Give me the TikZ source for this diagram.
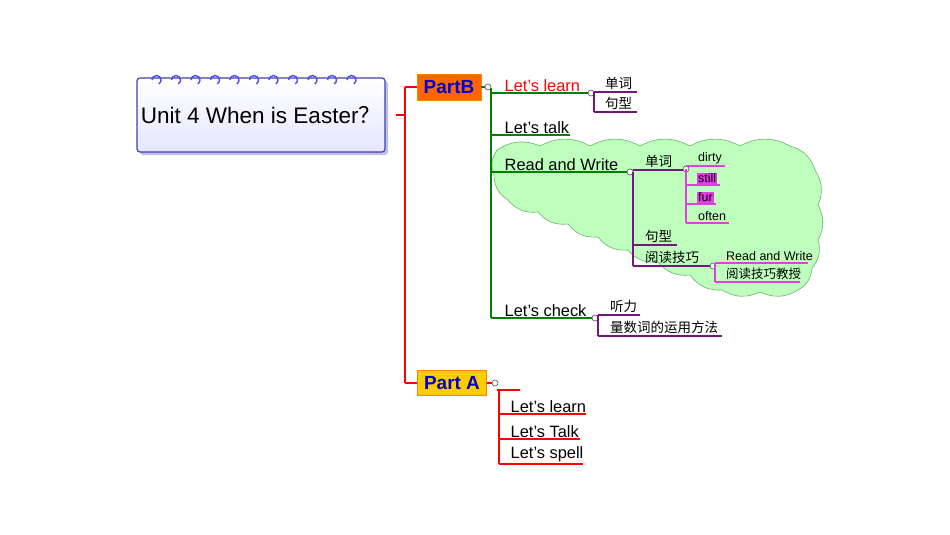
\documentclass[tikz,border=0pt]{standalone}
\usepackage{fontspec}
\setmainfont{Liberation Sans}
\newfontfamily\cjk{Noto Sans CJK SC}
\usetikzlibrary{shadows}
\definecolor{gr}{RGB}{0,128,0}
\definecolor{pu}{RGB}{120,20,130}
\definecolor{mg}{RGB}{230,60,230}
\definecolor{cl}{RGB}{190,255,190}
\begin{document}
\begin{tikzpicture}[x=1pt,y=-1pt,
 red/.style={draw=red,line width=2.4pt},
 grn/.style={draw=gr,line width=2.4pt},
 pur/.style={draw=pu,line width=1.8pt},
 mgl/.style={draw=mg,line width=1.2pt},
 dot/.style={circle,draw=black!70,fill=white,inner sep=0pt,minimum size=6pt,line width=0.6pt},
 lbl/.style={anchor=south west,inner sep=1.5pt,font=\fontsize{16.4}{16}\selectfont},
 sml/.style={anchor=south west,inner sep=1pt,font=\fontsize{12.5}{12}\selectfont},
 cn/.style={anchor=south west,inner sep=1pt,font=\cjk\fontsize{13.5}{13}\selectfont},
 bl/.style={bend left=28}]
\useasboundingbox (0,0) rectangle (950,535);
% cloud
\fill[cl,draw=gr!60,line width=0.6pt]
 (497,150) to[bl] (540,146) to[bl] (590,146) to[bl] (640,146)
 to[bl] (690,146) to[bl] (740,146) to[bl] (790,146)
 to[bl] (815,170) to[bl] (818,205) to[bl] (818,240)
 to[bl] (812,268) to[bl] (798,290) to[bl] (760,292)
 to[bl] (722,290) to[bl] (690,275) to[bl] (658,262)
 to[bl] (628,250) to[bl] (598,237) to[bl] (568,224)
 to[bl] (538,212) to[bl] (508,200) to[bl] (494,175)
 to[bl] (497,150) -- cycle;
% central box
\node[draw=blue!55!black!75,line width=1.2pt,rounded corners=3pt,top color=white,bottom color=blue!10,
 minimum width=248pt,minimum height=74pt,drop shadow={shadow xshift=3pt,shadow yshift=-3pt,fill=blue!45!gray!70},
 font=\fontsize{22.5}{23}\selectfont] (root) at (261,115) {Unit 4 When is Easter{\cjk ？}};
\foreach \i in {0,...,10} {\draw[blue!70,line width=1.4pt] (152+\i*19.5,80) arc (180:-60:4.5pt);}
% main red trunk
\coordinate (rt) at (405,87);\coordinate (rb) at (405,383);
\draw[red] (root.east) ++(10,0) -- (405,115);
\draw[red] (rt) -- (rb);
\node[fill=orange!80!red,draw=orange,inner sep=1pt,minimum width=64pt,minimum height=26pt,text=blue!80!black,font=\bfseries\fontsize{19}{19}\selectfont] (pb) at (449,87) {PartB};
\node[fill=orange!40!yellow,draw=orange,inner sep=1pt,minimum width=69pt,minimum height=25pt,text=blue!80!black,font=\bfseries\fontsize{19}{19}\selectfont] (pa) at (452,383) {Part A};
\draw[red] (rt) -- (pb.west);
\draw[red] (rb) -- (pa.west);
% Part B
\node[dot] (pbd) at (488,87) {};
\draw[grn] (pb.east) -- (pbd);
\coordinate (gt) at (491,88);\coordinate (gb) at (491,318);
\draw[grn] (gt) -- (gb);
\node[lbl,text=red] (ll) at (503,93) {Let's learn};
\node[lbl] (lt) at (503,135) {Let's talk};
\node[lbl] (rw) at (503,172) {Read and Write};
\node[lbl] (lc) at (503,318) {Let's check};
\draw[grn] (491,93) -- (590,93);
\draw[grn] (491,135) -- (570,135);
\draw[grn] (491,172) -- (630,172);
\draw[grn] (491,318) -- (595,318);
% Let's learn children
\node[dot] (d1) at (591,93) {};
\draw[pur] (594,92) -- (594,112);
\node[cn] (a1) at (604,91) {单词};\node[cn] (a2) at (604,111) {句型};
\draw[pur] (594,92) -- (637,92);\draw[pur] (594,112) -- (637,112);
% RW children
\node[dot] (d2) at (630,172) {};
\draw[pur] (633,172) -- (633,266);
\node[cn] (b1) at (644,169) {单词};\draw[pur] (633,170) -- (685,170);
\node[cn] (b2) at (644,244) {句型};\draw[pur] (633,245) -- (677,245);
\node[cn] (b3) at (644,265) {阅读技巧};\draw[pur] (633,266) -- (712,266);
\node[dot] (d3) at (686,169) {};
\draw[mgl] (686,169) -- (686,223);
\node[sml] (c1) at (697,165) {dirty};\draw[mgl] (686,166) -- (725,166);
\node[sml,fill=mg] (c2) at (697,184) {still};\draw[mgl] (686,185) -- (720,185);
\node[sml,fill=mg] (c3) at (697,203) {fur};\draw[mgl] (686,204) -- (716,204);
\node[sml] (c4) at (697,222) {often};\draw[mgl] (686,223) -- (729,223);
\node[dot] (d4) at (713,266) {};
\draw[mgl] (715,263) -- (715,282);
\node[sml] (e1) at (725,262) {Read and Write};\draw[mgl] (715,263) -- (808,263);
\node[cn,font=\cjk\fontsize{12.5}{12}\selectfont] (e2) at (725,281) {阅读技巧教授};\draw[mgl] (715,282) -- (800,282);
% Let's check children
\node[dot] (d5) at (595,318) {};
\draw[pur] (598,315) -- (598,336);
\node[cn] (f1) at (609,314) {听力};\draw[pur] (598,315) -- (640,315);
\node[cn] (f2) at (609,335) {量数词的运用方法};\draw[pur] (598,336) -- (722,336);
% Part A
\node[dot] (pad) at (495,383) {};
\draw[red] (pa.east) -- (pad);
\draw[red] (497,390) -- (520,390);
\draw[red] (499,390) -- (499,464);
\node[lbl] (p1) at (509,414) {Let's learn};\draw[red] (499,414) -- (586,414);
\node[lbl] (p2) at (509,439) {Let's Talk};\draw[red] (499,439) -- (580,439);
\node[lbl] (p3) at (509,464) {Let's spell};\draw[red] (499,464) -- (583,464);
\end{tikzpicture}
\end{document}
